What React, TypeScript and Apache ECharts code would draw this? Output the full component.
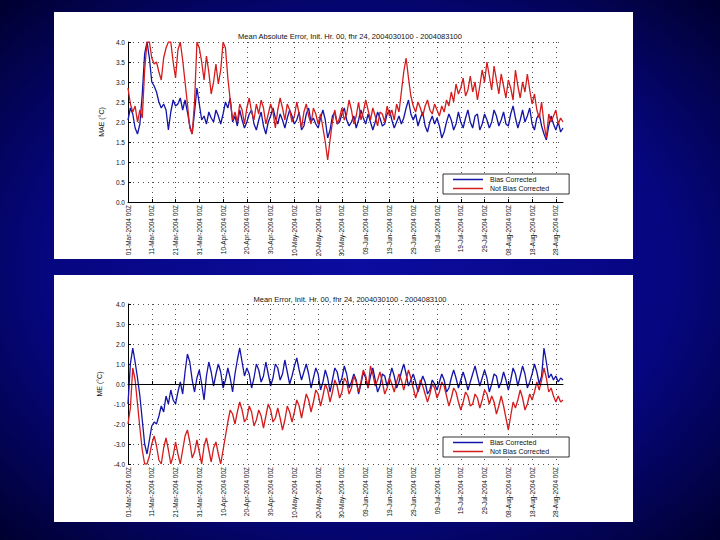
import React, { useEffect, useRef } from "react";
import * as echarts from "echarts";

const MONTHS = ["Jan", "Feb", "Mar", "Apr", "May", "Jun", "Jul", "Aug", "Sep", "Oct", "Nov", "Dec"];
const START = Date.UTC(2004, 2, 1);
const dates: string[] = Array.from({ length: 184 }, (_, i) => {
  const d = new Date(START + i * 86400000);
  const dd = String(d.getUTCDate()).padStart(2, "0");
  return `${dd}-${MONTHS[d.getUTCMonth()]}-2004 00Z`;
});

const titleTop = "Mean Absolute Error, Init. Hr. 00, fhr 24, 2004030100 - 2004083100";
const titleBottom = "Mean Error, Init. Hr. 00, fhr 24, 2004030100 - 2004083100";
const seriesNames = ["Bias Corrected", "Not Bias Corrected"];

// MAE, bias corrected
const maeBC = [
  2.05, 2.35, 2.2, 1.85, 1.7, 1.95, 2.7, 3.7, 4.0, 3.6,
  3.0, 2.9, 2.75, 2.5, 2.35, 2.45, 2.3, 1.8, 2.25, 2.55,
  2.4, 2.45, 2.6, 2.3, 2.55, 2.25, 1.9, 1.7, 2.25, 2.85,
  2.45, 2.05, 2.15, 1.95, 2.25, 2.1, 2.0, 2.3, 2.15, 1.95,
  2.2, 2.5, 2.35, 2.6, 2.0, 2.15, 1.9, 2.3, 2.05, 1.85,
  2.0, 2.2, 2.3, 1.95, 1.8, 2.05, 2.25, 1.9, 1.7, 2.0,
  2.15, 2.35, 2.1, 1.95, 2.2, 2.05, 1.85, 2.1, 2.3, 2.15,
  1.95, 2.05, 2.25, 1.8, 1.9, 2.2, 2.35, 2.0, 2.1, 1.95,
  1.85, 2.1, 2.3, 2.05, 1.6, 1.8, 2.15, 2.25, 1.95, 2.0,
  2.2, 2.35, 2.05, 1.9, 2.0, 2.15, 1.85, 2.05, 2.3, 2.1,
  1.95, 2.2, 2.0, 1.8, 2.0, 2.25, 2.1, 1.9, 1.95, 2.2,
  2.3, 2.05, 1.85, 2.0, 2.15, 1.95, 2.1, 2.35, 2.55, 2.2,
  2.05, 2.2, 1.9, 2.1, 2.25, 1.9, 1.75, 2.0, 2.15, 1.95,
  2.1, 1.9, 1.6, 1.75, 2.0, 2.2, 2.05, 1.8, 1.95, 2.25,
  2.0, 1.85, 2.1, 2.3, 2.0, 1.85, 2.15, 2.2, 1.8, 1.95,
  2.2, 2.05, 1.85, 2.0, 2.3, 2.15, 1.9, 2.05, 2.25, 1.95,
  1.9, 2.2, 2.4, 2.1, 1.85, 2.05, 2.3, 2.0, 2.15, 2.35,
  1.95, 1.8, 2.1, 2.2, 1.9, 1.7, 1.55, 1.9, 2.15, 1.95,
  1.8, 2.0, 1.75, 1.85,
];

// MAE, not bias corrected
const maeNBC = [
  2.85, 2.45, 2.25, 2.4, 2.0, 2.3, 2.1, 3.3, 4.0, 4.0,
  3.6, 3.45, 3.5, 3.25, 3.05, 3.6, 3.85, 4.0, 4.0, 3.5,
  3.1, 3.8, 4.0, 3.55, 3.0, 2.45, 1.85, 1.7, 2.5, 4.0,
  3.85, 3.5, 3.05, 3.65, 3.25, 2.7, 3.0, 3.45, 2.95, 3.3,
  4.0, 3.85, 3.1, 2.55, 2.05, 2.25, 2.0, 2.45, 2.3, 1.95,
  2.35, 2.6, 2.25, 2.05, 2.45, 2.2, 2.55, 2.35, 1.95, 2.2,
  2.45, 2.25, 1.85, 2.3, 2.6, 2.35, 2.05, 2.45, 2.3, 2.0,
  2.15, 2.5, 2.2, 1.85, 2.25, 2.45, 2.15, 1.95, 2.35, 2.2,
  1.95, 2.2, 1.85, 1.5, 1.05, 1.55, 2.0, 2.3, 1.95, 2.1,
  2.35, 2.05, 2.2, 2.55, 2.3, 1.95, 2.15, 2.5, 2.05, 2.25,
  2.55, 2.3, 2.05, 2.35, 2.15, 1.9, 2.25, 2.2, 2.0, 2.4,
  2.15, 2.3, 2.05, 2.45, 2.25, 2.75, 3.25, 3.6, 3.1, 2.65,
  2.4, 2.25, 2.5, 2.35, 2.15, 2.4, 2.55, 2.3, 2.2, 2.45,
  2.3, 2.15, 2.4, 2.25, 2.55, 2.4, 2.75, 2.5, 2.95, 2.7,
  2.85, 3.1, 2.65, 2.8, 3.15, 2.75, 3.0, 2.55, 2.9, 3.3,
  3.0, 3.5, 3.15, 2.8, 3.4, 3.05, 2.7, 3.2, 2.9, 2.6,
  3.05, 2.85, 2.55, 3.3, 2.9, 2.6, 3.0, 2.75, 3.2, 2.8,
  2.45, 2.7, 2.3, 2.1, 2.5, 1.95, 1.6, 2.2, 2.0, 2.15,
  2.3, 1.95, 2.1, 2.0,
];

// ME, bias corrected
const meBC = [
  -1.0, 1.0, 1.8, 1.1, 0.3, -0.6, -1.8, -3.0, -3.5, -2.8,
  -2.1, -1.9, -2.0, -1.6, -1.1, -1.4, -0.6, -1.0, -0.3, -0.8,
  -1.0, -0.4, 0.1, -0.5, 0.6, 1.5, 1.1, 0.2, -0.4, 0.3,
  0.7, 0.0, -0.8, 0.4, 1.1, 0.6, -0.1, 0.5, 1.0, 0.6,
  -0.2, 0.2, 0.8, 0.3, -0.4, 0.5, 1.2, 1.8, 1.1, 0.4,
  0.8, 0.5, -0.2, 0.3, 1.0, 0.7, 0.1, 0.4, 1.1, 0.5,
  -0.1, 0.3, 1.0, 0.8, 0.2, 0.5, 1.2, 0.6, 0.0, 0.4,
  0.9, 1.3, 0.7, 0.2, 0.6, 1.0, 0.5, -0.2, 0.3, 0.8,
  0.5, -0.3, 0.1, 0.7, 0.3, -0.4, 0.2, 0.8, 0.6, 0.0,
  0.3, 0.9, 0.5, -0.2, 0.1, 0.5, 0.2, -0.5, 0.0, 0.6,
  0.3, -0.2, 0.4, 0.8, 0.2, -0.4, -0.1, 0.5, 0.4, -0.1,
  0.3, 0.8, 0.4, -0.2, 0.1, 0.6, 1.0, 0.5, -0.1, 0.2,
  0.5, 0.1, -0.4, 0.0, 0.4, 0.1, -0.5, -0.3, 0.2, 0.0,
  -0.3, 0.1, 0.5, 0.2, -0.4, -0.2, 0.3, 0.7, 0.3, -0.2,
  0.2, 0.6, 0.2, -0.3, 0.1, 0.5, 0.9, 0.4, -0.1, 0.3,
  0.7, 0.3, -0.4, 0.0, 0.5, 0.4, -0.2, 0.1, 0.6, 0.2,
  -0.3, 0.2, 0.8, 0.5, -0.1, 0.4, 0.9, 0.5, -0.2, 0.1,
  0.5, 1.0, 0.6, 0.0, 0.4, 1.8, 1.1, 0.3, 0.5, 0.2,
  0.4, 0.1, 0.3, 0.2,
];

// ME, not bias corrected
const meNBC = [
  -2.0, -1.2, 0.8, 0.2, -1.0, -2.2, -3.3, -4.0, -4.0, -3.6,
  -3.0, -2.6, -3.1, -3.8, -4.0, -3.2, -2.7, -3.3, -4.0, -3.6,
  -2.9, -3.5, -4.0, -3.3, -2.6, -2.3, -2.9, -3.7, -3.4, -2.8,
  -3.4, -4.0, -3.1, -2.7, -3.3, -3.9, -3.2, -2.9, -3.5, -4.0,
  -3.3, -2.6, -1.9, -1.3, -1.5, -2.0, -1.4, -0.9, -1.3, -1.9,
  -1.7, -1.1, -1.4, -2.1, -1.8, -1.3, -1.6, -2.2, -1.6, -1.0,
  -1.3, -1.9, -1.7, -1.2, -1.7, -2.3, -1.8, -1.1, -1.4, -1.9,
  -1.4, -0.8, -1.1, -1.7, -1.1, -0.5, -0.8, -1.4, -0.9, -0.3,
  -0.5, -1.1, -0.6, 0.0, -0.3, -0.9, -0.4, 0.2, -0.1, -0.7,
  -0.4, 0.3, 0.1, -0.5, -0.2, 0.4, 0.1, -0.4, 0.1, 0.7,
  0.4, -0.2, 0.9, 0.5, -0.1, 0.2, 0.6, 0.1, -0.5, -0.2,
  0.3, 0.0, -0.4, 0.1, 0.5, 0.2, -0.3, 0.2, 0.7, 0.3,
  -0.2, -0.7, -0.3, 0.2, -0.1, -0.5, -0.9, -0.5, 0.0, -0.2,
  -0.7, -0.4, 0.1, -0.1, -0.6, -1.1, -0.7, -0.2, -0.4, -0.9,
  -1.3, -0.9, -0.4, -0.6, -1.1, -1.0, -0.5, -0.7, -1.2, -0.8,
  -0.3, -0.5, -1.0, -0.6, -0.9, -1.5, -1.1, -0.6, -1.1, -1.7,
  -2.3, -1.6, -0.9, -1.2, -0.8, -0.3, -0.7, -1.3, -1.0, -0.5,
  -0.8, -0.4, 0.1, -0.3, 0.2, 0.8, 0.3, -0.4, -0.2, -0.6,
  -0.9, -0.6, -0.9, -0.8,
];

const maeTicks = { min: 0, max: 4, interval: 0.5 };
const meTicks = { min: -4, max: 4, interval: 1 };

const BLUE = "#1414a8";
const RED = "#d41c1c";

export default function App() {
  const ref = useRef<HTMLDivElement>(null);
  useEffect(() => {
    document.body.style.margin = "0";
    const chart = echarts.init(ref.current!, undefined, { renderer: "svg" });
    const font = "Arial, 'Liberation Sans', sans-serif";
    const xAxisBase = (gridIndex: number) => ({
      type: "category" as const,
      gridIndex,
      data: dates,
      boundaryGap: false,
      axisLine: { lineStyle: { color: "#000", width: 1 } },
      axisTick: { inside: true, length: 3, interval: 9, lineStyle: { color: "#000" } },
      axisLabel: {
        interval: 9,
        rotate: 90,
        fontSize: 6.5,
        color: "#111",
        fontFamily: font,
        margin: 3,
      },
      splitLine: { show: true, interval: 9, lineStyle: { color: "#222", type: [1, 4], width: 0.8 } },
    });
    const yAxisBase = (gridIndex: number, t: { min: number; max: number; interval: number }, name: string) => ({
      type: "value" as const,
      gridIndex,
      min: t.min,
      max: t.max,
      interval: t.interval,
      name,
      nameLocation: "middle" as const,
      nameGap: 16,
      nameTextStyle: { fontSize: 7, color: "#111", fontFamily: font },
      axisLine: { show: true, lineStyle: { color: "#000", width: 1 } },
      axisTick: { show: true, inside: true, length: 3, lineStyle: { color: "#000" } },
      axisLabel: {
        fontSize: 6.5,
        color: "#111",
        fontFamily: font,
        margin: 3,
        formatter: (v: number) => v.toFixed(1),
      },
      splitLine: { show: true, lineStyle: { color: "#222", type: [1, 4], width: 0.8 } },
    });
    const legendBase = (top: number) => ({
      data: seriesNames,
      orient: "vertical" as const,
      left: 443,
      top,
      backgroundColor: "#fff",
      borderColor: "#000",
      borderWidth: 0.8,
      borderRadius: 0,
      padding: [2, 20, 2, 10],
      itemGap: 2,
      itemWidth: 30,
      itemHeight: 1.5,
      icon: "rect",
      textStyle: { fontSize: 7, color: "#111", fontFamily: font, padding: [0, 0, 0, 2] },
    });
    const lineSeries = (name: string, xi: number, data: number[], color: string, extra: object = {}) => ({
      name,
      type: "line" as const,
      xAxisIndex: xi,
      yAxisIndex: xi,
      data,
      symbol: "none",
      lineStyle: { color, width: 1.3 },
      itemStyle: { color },
      ...extra,
    });
    chart.setOption({
      animation: false,
      backgroundColor: {
        type: "radial",
        x: 0.5,
        y: 0.5,
        r: 0.72,
        colorStops: [
          { offset: 0, color: "#0c0ca0" },
          { offset: 0.6, color: "#060680" },
          { offset: 1, color: "#00002c" },
        ],
      },
      graphic: [
        { type: "rect", z: -100, shape: { x: 54, y: 12, width: 579, height: 247 }, style: { fill: "#fff" }, silent: true },
        { type: "rect", z: -100, shape: { x: 54, y: 275, width: 579, height: 247 }, style: { fill: "#fff" }, silent: true },
      ],
      title: [
        {
          text: titleTop,
          left: 345,
          textAlign: "center",
          top: 27,
          textStyle: { fontSize: 7.5, fontWeight: "normal", color: "#111", fontFamily: font },
        },
        {
          text: titleBottom,
          left: 345,
          textAlign: "center",
          top: 290,
          textStyle: { fontSize: 7.5, fontWeight: "normal", color: "#111", fontFamily: font },
        },
      ],
      legend: [legendBase(174), legendBase(437)],
      grid: [
        { left: 128, top: 42, width: 435, height: 160 },
        { left: 128, top: 304, width: 435, height: 160 },
      ],
      xAxis: [xAxisBase(0), xAxisBase(1)],
      yAxis: [yAxisBase(0, maeTicks, "MAE (°C)"), yAxisBase(1, meTicks, "ME (°C)")],
      series: [
        lineSeries(seriesNames[0], 0, maeBC, BLUE),
        lineSeries(seriesNames[1], 0, maeNBC, RED),
        lineSeries(seriesNames[0], 1, meBC, BLUE, {
          markLine: {
            silent: true,
            symbol: "none",
            label: { show: false },
            lineStyle: { color: "#000", type: "solid", width: 1 },
            data: [{ yAxis: 0 }],
          },
        }),
        lineSeries(seriesNames[1], 1, meNBC, RED),
      ],
    });
    return () => chart.dispose();
  }, []);
  return <div ref={ref} style={{ position: "absolute", left: 0, top: 0, width: 720, height: 540 }} />;
}
